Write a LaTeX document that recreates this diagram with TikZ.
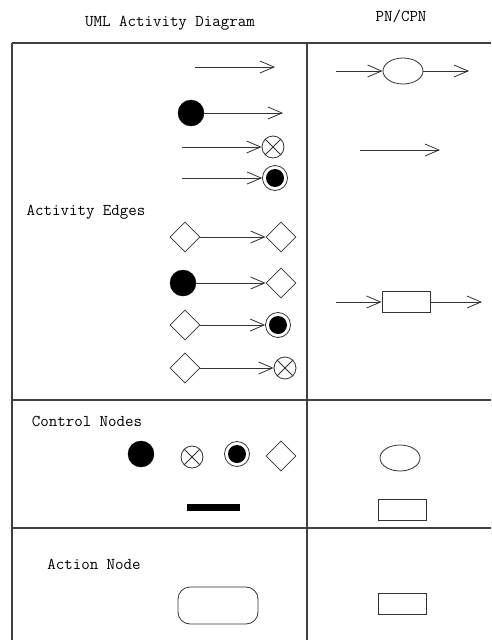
\documentclass[tikz,border=0pt]{standalone}
\usetikzlibrary{arrows.meta,shapes.geometric}
\begin{document}
\begin{tikzpicture}[x=1pt,y=-1pt,
  ink/.style={draw=black!80, line width=0.8pt},
  grid/.style={draw=black!75, line width=1.1pt},
  flow/.style={ink, -{Straight Barb[length=14pt,width=12pt]}},
  startdot/.style={circle, fill=black, draw=black, minimum size=26pt, inner sep=0pt},
  xnode/.style={circle, ink, minimum size=22pt, inner sep=0pt,
    path picture={\draw[black!80, line width=0.8pt]
      (path picture bounding box.north west) -- (path picture bounding box.south east)
      (path picture bounding box.north east) -- (path picture bounding box.south west);}},
  endnode/.style={circle, ink, minimum size=25pt, inner sep=0pt,
    path picture={\fill[black] (path picture bounding box.center) circle[radius=9pt];}},
  dec/.style={diamond, ink, aspect=1, minimum width=30pt, minimum height=30pt, inner sep=0pt},
  pnplace/.style={ellipse, ink, minimum width=40pt, minimum height=26pt, inner sep=0pt},
  pntrans/.style={rectangle, ink, minimum width=48pt, minimum height=21pt, inner sep=0pt},
  fork/.style={rectangle, fill=black, minimum width=53pt, minimum height=7pt, inner sep=0pt},
  actbox/.style={rectangle, ink, rounded corners=12pt, minimum width=80pt, minimum height=37pt, inner sep=0pt},
  txt/.style={font=\fontsize{16.5}{18}\selectfont\ttfamily, inner sep=0pt, text=black}
]
\useasboundingbox (0,0) rectangle (491,640);

% table grid
\draw[grid] (12,43) -- (491,43);
\draw[grid] (12,400) -- (491,400);
\draw[grid] (12,528) -- (491,528);
\draw[grid] (12,43) -- (12,640);
\draw[grid] (307,43) -- (307,640);

% headers and row titles
\node[txt] (hUml) at (170,23) {UML Activity Diagram};
\node[txt] (hPn) at (401,16) {PN/CPN};
\node[txt] (tEdges) at (86,212) {Activity Edges};
\node[txt] (tCtrl) at (87,421) {Control Nodes};
\node[txt] (tAct) at (94,564) {Action Node};

% activity edges (UML)
\coordinate (a1s) at (195,67); \coordinate (a1e) at (275,67);
\draw[flow] (a1s) -- (a1e);

\node[startdot] (a2s) at (191,113) {}; \coordinate (a2e) at (283,113);
\draw[flow] (a2s) -- (a2e);

\coordinate (a3s) at (182,147); \node[xnode] (a3e) at (273,147) {};
\draw[flow] (a3s) -- (a3e);

\coordinate (a4s) at (182,178); \node[endnode] (a4e) at (275,178) {};
\draw[flow] (a4s) -- (a4e);

\node[dec] (a5s) at (185,237) {}; \node[dec] (a5e) at (281,237) {};
\draw[flow] (a5s) -- (a5e);

\node[startdot] (a6s) at (183,283) {}; \node[dec] (a6e) at (281,283) {};
\draw[flow] (a6s) -- (a6e);

\node[dec] (a7s) at (185,325) {}; \node[endnode] (a7e) at (278,325) {};
\draw[flow] (a7s) -- (a7e);

\node[dec] (a8s) at (185,368) {}; \node[xnode] (a8e) at (285,368) {};
\draw[flow] (a8s) -- (a8e);

% activity edges (PN/CPN)
\coordinate (b1s) at (336,71); \node[pnplace] (b1p) at (403,71) {}; \coordinate (b1e) at (469,71);
\draw[flow] (b1s) -- (b1p);
\draw[flow] (b1p) -- (b1e);

\coordinate (b2s) at (360,150); \coordinate (b2e) at (440,150);
\draw[flow] (b2s) -- (b2e);

\coordinate (b3s) at (336,302); \node[pntrans] (b3t) at (406,302) {}; \coordinate (b3e) at (482,302);
\draw[flow] (b3s) -- (b3t);
\draw[flow] (b3t) -- (b3e);

% control nodes
\node[startdot] (cInit) at (141,454) {};
\node[xnode] (cFlowEnd) at (192,457) {};
\node[endnode] (cFinal) at (237,454) {};
\node[dec] (cDec) at (281,456) {};
\node[fork] (cFork) at (213.5,507.5) {};
\node[pnplace] (cPlace) at (400,458) {};
\node[pntrans] (cTrans) at (402,510) {};

% action node
\node[actbox] (actUml) at (218,605.5) {};
\node[pntrans] (actPn) at (402,603.5) {};
\end{tikzpicture}
\end{document}
